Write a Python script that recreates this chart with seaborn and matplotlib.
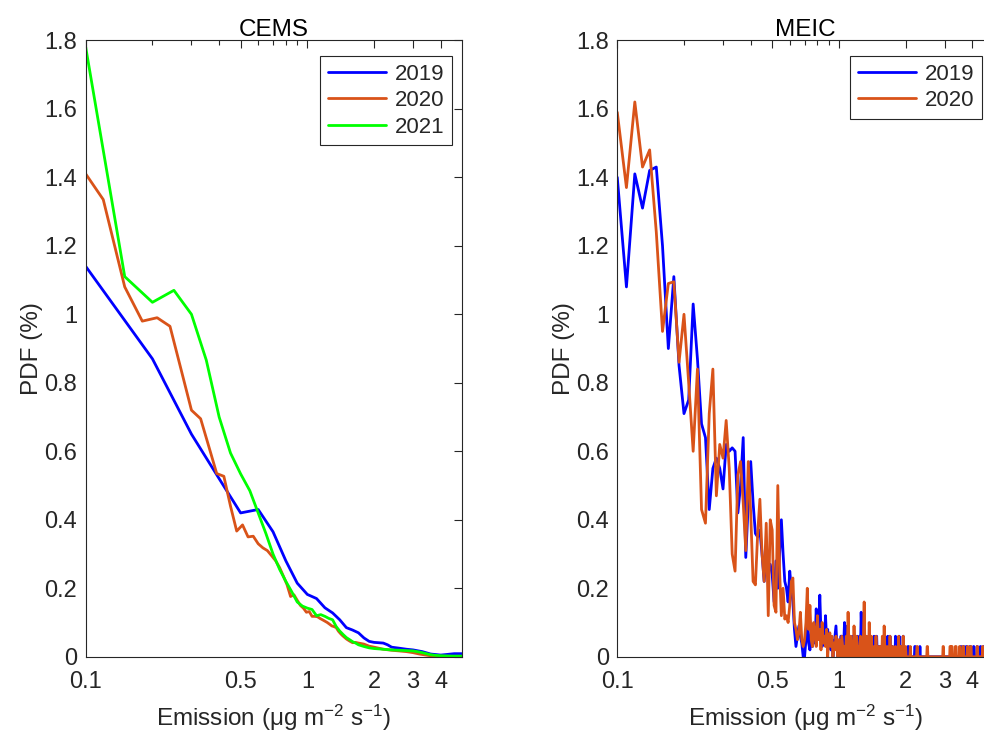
import numpy as np
import pandas as pd
import seaborn as sns
import matplotlib
matplotlib.use("Agg")
import matplotlib.pyplot as plt
from matplotlib.ticker import FixedLocator, FuncFormatter, NullFormatter

# ---------------- CEMS (left panel) ----------------
cems_2019_x = [0.1, 0.2, 0.3, 0.4, 0.5, 0.6, 0.7, 0.8, 0.9, 1.0, 1.1, 1.2, 1.3, 1.4, 1.5,
               1.6, 1.7, 1.8, 1.9, 2.0, 2.1, 2.2, 2.3, 2.4, 2.6, 2.8, 3.0, 3.3, 3.6, 4.0,
               4.3, 4.6, 5.0]
cems_2019_y = [1.14, 0.87, 0.65, 0.52, 0.42, 0.43, 0.365, 0.28, 0.215, 0.182, 0.17, 0.143,
               0.128, 0.108, 0.085, 0.078, 0.07, 0.055, 0.045, 0.042, 0.041, 0.04, 0.035,
               0.028, 0.025, 0.022, 0.02, 0.015, 0.008, 0.005, 0.007, 0.009, 0.009]

cems_2020_x = [0.10, 0.12, 0.15, 0.18, 0.21, 0.24, 0.27, 0.30, 0.33, 0.36, 0.39, 0.42, 0.45,
               0.48, 0.51, 0.54, 0.57, 0.60, 0.63, 0.66, 0.69, 0.72, 0.75, 0.78, 0.81, 0.84,
               0.87, 0.90, 0.93, 0.96, 0.99, 1.02, 1.05, 1.08, 1.11, 1.14, 1.17, 1.20, 1.23,
               1.26, 1.29, 1.32, 1.35, 1.38, 1.41, 1.44, 1.47, 1.50, 1.55, 1.60, 1.65, 1.70,
               1.80, 1.90, 2.0, 2.1, 2.2, 2.4, 2.6, 2.8, 3.0, 3.2, 3.5, 3.8, 4.2, 4.6, 5.0]
cems_2020_y = [1.41, 1.335, 1.08, 0.98, 0.99, 0.965, 0.836, 0.72, 0.695, 0.612, 0.535, 0.527,
               0.44, 0.367, 0.385, 0.35, 0.352, 0.33, 0.318, 0.31, 0.295, 0.28, 0.26, 0.235,
               0.21, 0.176, 0.181, 0.165, 0.15, 0.142, 0.13, 0.132, 0.118, 0.118, 0.117, 0.112,
               0.108, 0.104, 0.10, 0.095, 0.09, 0.088, 0.085, 0.075, 0.068, 0.062, 0.057, 0.052,
               0.046, 0.041, 0.042, 0.04, 0.037, 0.031, 0.028, 0.025, 0.022, 0.019, 0.017,
               0.015, 0.012, 0.008, 0.004, 0.001, 0.0, 0.0, 0.0]

cems_2021_x = [0.10, 0.15, 0.20, 0.25, 0.30, 0.35, 0.40, 0.45, 0.50, 0.55, 0.60, 0.65, 0.70,
               0.75, 0.80, 0.85, 0.90, 0.95, 1.00, 1.05, 1.10, 1.15, 1.20, 1.25, 1.30, 1.35,
               1.40, 1.45, 1.50, 1.55, 1.60, 1.65, 1.70, 1.80, 1.90, 2.0, 2.2, 2.4, 2.6, 2.8,
               3.0, 3.2, 3.4, 3.6, 3.8, 4.0, 4.5, 5.0]
cems_2021_y = [1.78, 1.11, 1.035, 1.07, 1.00, 0.866, 0.70, 0.595, 0.534, 0.485, 0.42, 0.36,
               0.30, 0.255, 0.22, 0.19, 0.16, 0.148, 0.142, 0.138, 0.12, 0.123, 0.118, 0.112,
               0.108, 0.088, 0.075, 0.065, 0.056, 0.05, 0.044, 0.04, 0.035, 0.03, 0.026, 0.024,
               0.022, 0.02, 0.019, 0.018, 0.017, 0.014, 0.01, 0.006, 0.004, 0.003, 0.002, 0.002]

# ---------------- MEIC (right panel) ----------------
# bin centres every 0.01 from 0.10 to 5.00
meic_bins = np.round(np.arange(0.10, 5.001, 0.01), 2)

# values for 0.10 ... 1.00
meic_2019_head = [1.40, 1.08, 1.41, 1.31, 1.42, 1.43, 1.20, 0.90, 1.11, 0.85,
                  0.71, 0.75, 1.03, 0.87, 0.68, 0.64, 0.43, 0.55, 0.58, 0.55,
                  0.49, 0.62, 0.60, 0.61, 0.60, 0.42, 0.50, 0.64, 0.29, 0.45,
                  0.57, 0.45, 0.36, 0.35, 0.37, 0.30, 0.22, 0.30, 0.25, 0.27,
                  0.24, 0.16, 0.28, 0.20, 0.30, 0.40, 0.30, 0.22, 0.20, 0.16,
                  0.25, 0.20, 0.16, 0.08, 0.03, 0.06, 0.09, 0.06, 0.04, 0.00,
                  0.00, 0.05, 0.10, 0.04, 0.02, 0.08, 0.03, 0.06, 0.04, 0.14,
                  0.05, 0.08, 0.18, 0.07, 0.03, 0.06, 0.04, 0.12, 0.05, 0.08,
                  0.03, 0.06, 0.02, 0.05, 0.00, 0.03, 0.06, 0.09, 0.03, 0.00,
                  0.04]
meic_2020_head = [1.59, 1.37, 1.62, 1.43, 1.48, 1.24, 0.95, 1.09, 1.095, 0.86,
                  1.00, 0.80, 0.60, 0.84, 0.43, 0.39, 0.71, 0.84, 0.47, 0.62,
                  0.58, 0.69, 0.55, 0.30, 0.25, 0.53, 0.57, 0.45, 0.31, 0.57,
                  0.42, 0.22, 0.21, 0.36, 0.46, 0.30, 0.22, 0.39, 0.12, 0.40,
                  0.37, 0.15, 0.13, 0.50, 0.25, 0.12, 0.20, 0.11, 0.12, 0.10,
                  0.15, 0.22, 0.23, 0.10, 0.08, 0.05, 0.07, 0.13, 0.05, 0.03,
                  0.05, 0.10, 0.20, 0.08, 0.15, 0.05, 0.03, 0.10, 0.07, 0.03,
                  0.12, 0.05, 0.08, 0.02, 0.10, 0.04, 0.06, 0.03, 0.08, 0.00,
                  0.05, 0.07, 0.03, 0.06, 0.00, 0.04, 0.02, 0.06, 0.03, 0.00,
                  0.05]

# non-zero bins above 1.00 (all other bins are 0)
meic_2019_tail_x = [1.01, 1.02, 1.03, 1.05, 1.06, 1.07, 1.09, 1.10, 1.12, 1.13, 1.15, 1.17,
                    1.19, 1.21, 1.22, 1.24, 1.26, 1.27, 1.29, 1.31, 1.33, 1.36, 1.38, 1.41,
                    1.44, 1.48, 1.52, 1.55, 1.60, 1.66, 1.70, 1.74, 1.80, 1.84, 1.87, 1.92,
                    1.95, 2.05, 2.06, 2.20, 2.21, 2.32, 3.55, 3.56, 3.65, 3.66, 3.75, 3.76,
                    3.77, 3.90, 3.91, 3.92, 4.05, 4.06, 4.20, 4.21, 4.35, 4.36, 4.50]
meic_2019_tail_y = [0.03, 0.06, 0.06, 0.03, 0.10, 0.03, 0.09, 0.03, 0.06, 0.03, 0.06, 0.03,
                    0.03, 0.06, 0.03, 0.06, 0.13, 0.06, 0.03, 0.06, 0.03, 0.06, 0.03, 0.03,
                    0.06, 0.06, 0.03, 0.03, 0.03, 0.06, 0.06, 0.03, 0.06, 0.03, 0.06, 0.03,
                    0.06, 0.03, 0.03, 0.03, 0.03, 0.03, 0.03, 0.03, 0.03, 0.03, 0.03, 0.03,
                    0.03, 0.03, 0.03, 0.03, 0.03, 0.03, 0.03, 0.03, 0.03, 0.03, 0.03]
meic_2020_tail_x = [1.01, 1.03, 1.04, 1.06, 1.08, 1.10, 1.11, 1.13, 1.15, 1.17, 1.18, 1.20,
                    1.22, 1.24, 1.25, 1.27, 1.29, 1.30, 1.31, 1.33, 1.35, 1.37, 1.38, 1.40,
                    1.42, 1.45, 1.47, 1.50, 1.53, 1.57, 1.60, 1.61, 1.65, 1.70, 1.75, 1.80,
                    1.86, 1.90, 1.95, 2.00, 2.10, 2.25, 2.26, 2.50, 2.51, 2.95, 2.96, 3.17,
                    3.18, 3.19, 3.22, 3.23, 3.24, 3.35, 3.36, 3.37, 3.38, 3.50, 3.51, 3.62,
                    3.63, 3.64, 3.65, 3.80, 3.81, 3.82, 3.93, 3.94, 3.95, 4.20, 4.21, 4.22,
                    4.45, 4.46, 4.62, 4.63, 4.64, 4.75, 4.76, 4.88, 4.89, 4.90, 4.98, 4.99,
                    5.00]
meic_2020_tail_y = [0.03, 0.06, 0.03, 0.03, 0.06, 0.13, 0.03, 0.06, 0.03, 0.09, 0.03, 0.06,
                    0.03, 0.03, 0.06, 0.03, 0.06, 0.16, 0.03, 0.06, 0.03, 0.10, 0.03, 0.06,
                    0.03, 0.03, 0.06, 0.03, 0.03, 0.06, 0.09, 0.03, 0.03, 0.06, 0.03, 0.03,
                    0.06, 0.03, 0.06, 0.03, 0.03, 0.03, 0.03, 0.03, 0.03, 0.03, 0.03, 0.03,
                    0.03, 0.03, 0.03, 0.03, 0.03, 0.03, 0.03, 0.03, 0.03, 0.03, 0.03, 0.03,
                    0.03, 0.03, 0.03, 0.03, 0.03, 0.03, 0.03, 0.03, 0.03, 0.03, 0.03, 0.03,
                    0.03, 0.03, 0.03, 0.03, 0.03, 0.03, 0.03, 0.03, 0.03, 0.03, 0.03, 0.03,
                    0.03]

years = ["2019", "2020", "2021"]
colors = {"2019": "#0000FF", "2020": "#D95319", "2021": "#00FF00"}


def meic_series(head, tail_x, tail_y):
    pdf = np.zeros(len(meic_bins))
    pdf[:len(head)] = head
    idx = np.rint((np.array(tail_x) - 0.10) * 100).astype(int)
    pdf[idx] = tail_y
    return pdf


df_cems = pd.concat([
    pd.DataFrame({"emission": cems_2019_x, "pdf": cems_2019_y, "year": "2019"}),
    pd.DataFrame({"emission": cems_2020_x, "pdf": cems_2020_y, "year": "2020"}),
    pd.DataFrame({"emission": cems_2021_x, "pdf": cems_2021_y, "year": "2021"}),
], ignore_index=True)

df_meic = pd.concat([
    pd.DataFrame({"emission": meic_bins,
                  "pdf": meic_series(meic_2019_head, meic_2019_tail_x, meic_2019_tail_y),
                  "year": "2019"}),
    pd.DataFrame({"emission": meic_bins,
                  "pdf": meic_series(meic_2020_head, meic_2020_tail_x, meic_2020_tail_y),
                  "year": "2020"}),
], ignore_index=True)

sns.set_style("white")
plt.rcParams["font.family"] = ["Liberation Sans", "DejaVu Sans"]
plt.rcParams["mathtext.fontset"] = "custom"
plt.rcParams["mathtext.rm"] = "Liberation Sans"
plt.rcParams["mathtext.it"] = "Liberation Sans:italic"

FS_TICK = 17
FS_LEG = 16
FS_LAB = 17.5
DARK = "#262626"

fig = plt.figure(figsize=(9.84, 7.33), dpi=100)
ax1 = fig.add_axes([0.0871, 0.104, 0.3827, 0.841])
ax2 = fig.add_axes([0.6273, 0.104, 0.3827, 0.841])

panels = [(ax1, df_cems, "CEMS", years, (0.973, 0.975)),
          (ax2, df_meic, "MEIC", years[:2], (0.968, 0.975))]

for ax, df, title, hue_order, anchor in panels:
    sns.lineplot(data=df, x="emission", y="pdf", hue="year", hue_order=hue_order,
                 palette=colors, estimator=None, sort=False, linewidth=2.0,
                 legend=False, ax=ax)
    ax.set_xscale("log")
    ax.set_xlim(0.1, 5)
    ax.set_ylim(0, 1.8)
    ax.xaxis.set_major_locator(FixedLocator([0.1, 0.5, 1, 2, 3, 4]))
    ax.xaxis.set_minor_locator(FixedLocator([0.2, 0.3, 0.4, 0.6, 0.7, 0.8, 0.9]))
    ax.xaxis.set_major_formatter(FuncFormatter(lambda v, p: f"{v:g}"))
    ax.xaxis.set_minor_formatter(NullFormatter())
    ax.set_yticks(np.arange(0, 1.81, 0.2))
    ax.yaxis.set_major_formatter(FuncFormatter(lambda v, p: f"{v:.1f}".rstrip("0").rstrip(".") if v else "0"))
    ax.tick_params(which="both", direction="in", top=True, right=True,
                   color=DARK, width=0.8, labelcolor=DARK, labelsize=FS_TICK)
    ax.tick_params(which="major", length=6)
    ax.tick_params(which="minor", length=3.5)
    ax.tick_params(axis="x", which="major", pad=10)
    ax.tick_params(axis="y", which="major", pad=6)
    for s in ax.spines.values():
        s.set_color(DARK)
        s.set_linewidth(0.8)
        s.set_visible(True)
    ax.set_title(title, fontsize=FS_LAB, color="black", pad=3)
    ax.set_xlabel("Emission (μg m$^{-2}$ s$^{-1}$)", fontsize=FS_LAB, color=DARK, labelpad=7)
    ax.set_ylabel("PDF (%)", fontsize=FS_LAB, color=DARK, labelpad=1)
    leg = ax.legend(ax.lines, hue_order, loc="upper right", bbox_to_anchor=anchor,
                    borderaxespad=0, frameon=True, fancybox=False, edgecolor=DARK,
                    framealpha=1, fontsize=FS_LEG, handlelength=2.6, handletextpad=0.4,
                    borderpad=0.35, labelspacing=0.25)
    leg.get_frame().set_linewidth(0.8)

fig.savefig("out.png", dpi=100)
